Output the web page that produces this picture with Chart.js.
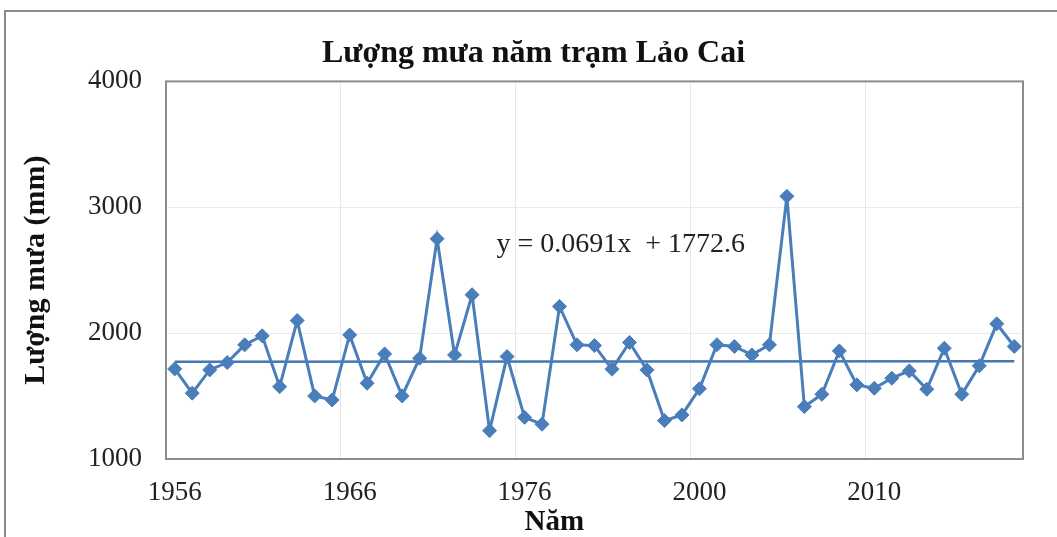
<!DOCTYPE html>
<html lang="vi">
  <head>
    <meta charset="UTF-8" />
    <title>Lượng mưa năm trạm Lảo Cai</title>
    <script src="https://cdn.jsdelivr.net/npm/chart.js"></script>
    <style>
      html, body { margin: 0; padding: 0; background: #fff; }
      #wrap { width: 1057px; height: 537px; position: relative; }
    </style>
  </head>
  <body>
    <div id="wrap"><canvas id="rainChart" width="1057" height="537"></canvas></div>

    <script>
      // years (the record jumps from 1985 to 2000)
      const years = [
        1956, 1957, 1958, 1959, 1960, 1961, 1962, 1963, 1964, 1965,
        1966, 1967, 1968, 1969, 1970, 1971, 1972, 1973, 1974, 1975,
        1976, 1977, 1978, 1979, 1980, 1981, 1982, 1983, 1984, 1985,
        2000, 2001, 2002, 2003, 2004, 2005, 2006, 2007, 2008, 2009,
        2010, 2011, 2012, 2013, 2014, 2015, 2016, 2017, 2018
      ];
      // annual rainfall, mm
      const rainfall = [
        1716, 1523, 1708, 1766, 1907, 1979, 1575, 2100, 1501, 1469,
        1986, 1602, 1835, 1501, 1801, 2750, 1827, 2305, 1225, 1814,
        1331, 1276, 2212, 1907, 1901, 1714, 1926, 1708, 1305, 1350,
        1558, 1908, 1894, 1827, 1907, 3087, 1416, 1514, 1859, 1589,
        1562, 1642, 1700, 1554, 1880, 1514, 1740, 2074, 1894
      ];
      // linear trend end points
      const trendEnds = [1772.7, 1776.0];
      const trendLabel = "y = 0.0691x  + 1772.6";
      const yTicks = [1000, 2000, 3000, 4000];

      const serif = "'Liberation Serif', 'Times New Roman', serif";
      const blue = "#4a7ebb";

      const frame = {
        id: "frame",
        beforeDraw(chart) {
          const c = chart.ctx;
          c.save();
          c.fillStyle = "#fff";
          c.fillRect(0, 0, chart.width, chart.height);
          c.strokeStyle = "#8a8a8a";
          c.lineWidth = 2;
          c.strokeRect(5, 11, chart.width + 20, chart.height + 20);
          c.restore();
        },
        afterDatasetsDraw(chart) {
          const { ctx: c, chartArea: a, scales } = chart;
          c.save();
          c.strokeStyle = "#8c8c8c";
          c.lineWidth = 2;
          c.strokeRect(a.left, a.top, a.right - a.left, a.bottom - a.top);
          c.fillStyle = "#222";
          c.textAlign = "center";
          c.textBaseline = "middle";
          // trendline equation
          c.font = "28px " + serif;
          c.fillText(trendLabel, scales.x.getPixelForValue(25.5), scales.y.getPixelForValue(2700));
          // x axis title, placed left of the plot centre as in the source
          c.fillStyle = "#111";
          c.font = "bold 29px " + serif;
          c.fillText("Năm", scales.x.getPixelForValue(21.7), a.bottom + 64);
          c.restore();
        }
      };

      new Chart(document.getElementById("rainChart"), {
        type: "line",
        data: {
          labels: years,
          datasets: [
            {
              label: "Lượng mưa",
              data: rainfall,
              borderColor: blue,
              backgroundColor: blue,
              borderWidth: 3,
              pointStyle: "rectRot",
              pointRadius: 7,
              pointBorderWidth: 1,
              tension: 0
            },
            {
              label: "Xu thế",
              data: [
                { x: years[0], y: trendEnds[0] },
                { x: years[years.length - 1], y: trendEnds[1] }
              ],
              borderColor: "#4677b3",
              borderWidth: 2.5,
              pointRadius: 0
            }
          ]
        },
        options: {
          responsive: false,
          animation: false,
          layout: { padding: { left: 44, right: 34, top: 0, bottom: 0 } },
          plugins: {
            legend: { display: false },
            tooltip: { enabled: false },
            title: {
              display: true,
              text: "Lượng mưa năm trạm Lảo Cai",
              color: "#111",
              font: { family: serif, size: 32, weight: "bold" },
              padding: { top: 35, bottom: 8 }
            }
          },
          scales: {
            x: {
              offset: true,
              grid: {
                offset: true,
                drawTicks: false,
                color: (ctx) => (ctx.index > 0 && ctx.index % 10 === 0 ? "#e8e8e8" : "transparent")
              },
              border: { display: false },
              ticks: {
                autoSkip: false,
                maxRotation: 0,
                padding: 18,
                color: "#222",
                font: { family: serif, size: 27 },
                callback: (v, i) => (i % 10 === 0 ? years[i] : "")
              },
              afterFit: (s) => { s.height = 78; }
            },
            y: {
              min: yTicks[0],
              max: yTicks[yTicks.length - 1],
              grid: { drawTicks: false, color: "#ececec" },
              border: { display: false },
              ticks: {
                stepSize: 1000,
                padding: 24,
                color: "#222",
                font: { family: serif, size: 27 },
                callback: (v) => String(v)
              },
              title: {
                display: true,
                text: "Lượng mưa (mm)",
                color: "#111",
                font: { family: serif, size: 30, weight: "bold", lineHeight: 1.2 },
                padding: { top: -26, bottom: 0 }
              },
              afterFit: (s) => { s.width = 122; }
            }
          }
        },
        plugins: [frame]
      });
    </script>
  </body>
</html>
